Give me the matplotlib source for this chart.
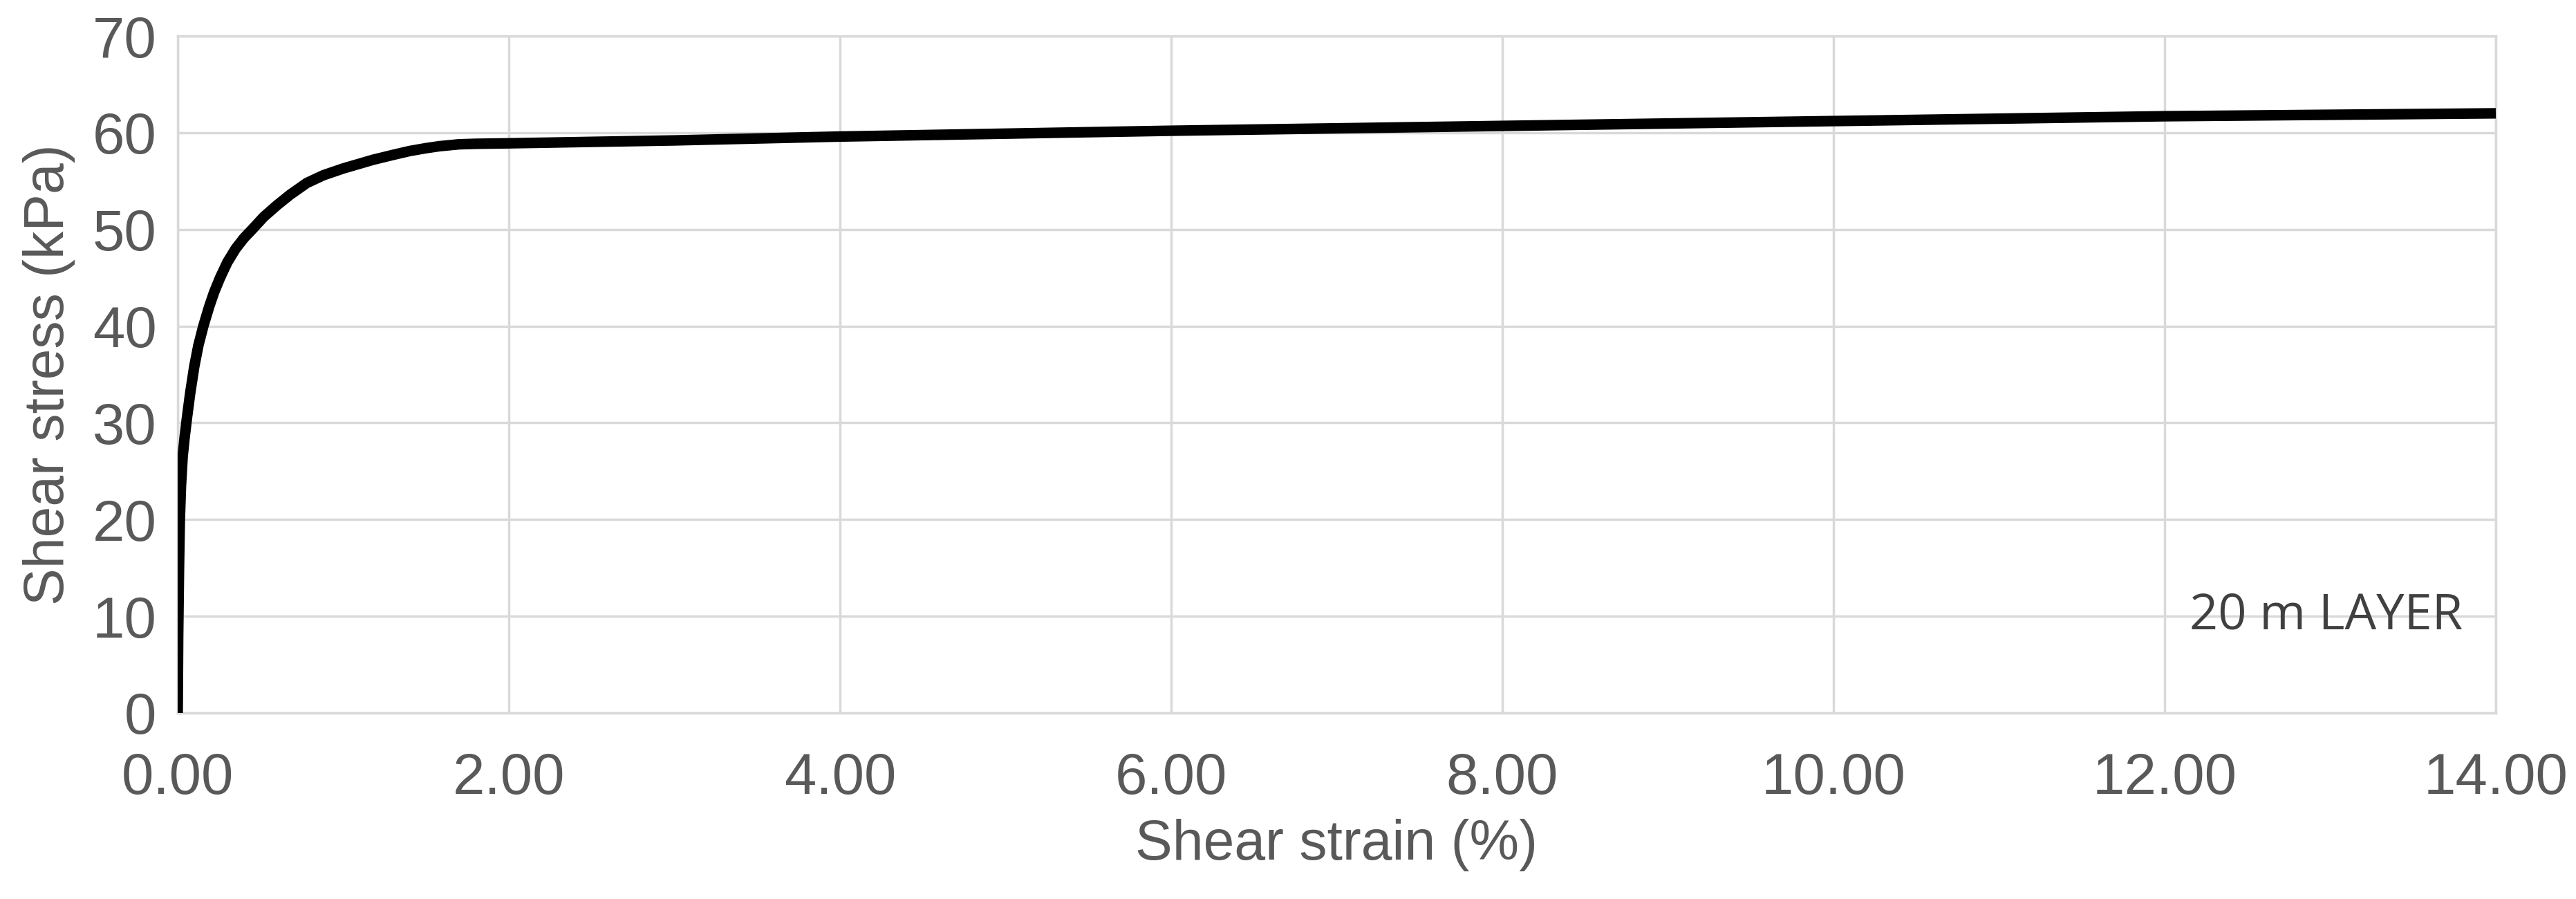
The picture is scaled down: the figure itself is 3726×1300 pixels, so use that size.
import matplotlib
matplotlib.use('Agg')
import matplotlib.pyplot as plt

strain = [0.0, 0.003, 0.008, 0.013, 0.02, 0.03, 0.042, 0.056, 0.075, 0.1, 0.125, 0.155, 0.19,
          0.22, 0.256, 0.3, 0.35, 0.4, 0.45, 0.52, 0.6, 0.68, 0.78, 0.88, 1.0, 1.1, 1.18,
          1.3, 1.4, 1.5, 1.58, 1.7, 1.8, 2.0, 3.0, 4.0, 6.0, 8.0, 10.0, 12.0, 14.0]
stress = [0.0, 8.0, 15.0, 20.0, 23.5, 26.5, 28.5, 30.5, 33.0, 35.8, 38.0, 40.0, 42.0,
          43.5, 45.0, 46.6, 48.0, 49.1, 50.0, 51.3, 52.5, 53.6, 54.8, 55.6, 56.3, 56.8, 57.2,
          57.7, 58.1, 58.4, 58.6, 58.8, 58.85, 58.9, 59.2, 59.6, 60.2, 60.7, 61.2, 61.7, 62.0]

GRAY = '#595959'
plt.rcParams['font.family'] = ['Liberation Sans', 'DejaVu Sans']

fig = plt.figure(figsize=(37.26, 13), dpi=100)
ax = fig.add_axes([257 / 3726, 1 - 1031 / 1300, (3610 - 257) / 3726, (1031 - 52) / 1300])

ax.plot(strain, stress, color='black', lw=11, solid_capstyle='butt',
        solid_joinstyle='round', zorder=3)

ax.set_xlim(0, 14)
ax.set_ylim(0, 70)
ax.set_xticks(range(0, 15, 2))
ax.set_xticklabels([f'{v:.2f}' for v in range(0, 15, 2)])
ax.set_yticks(range(0, 71, 10))
ax.grid(True, color='#d9d9d9', lw=2.5)
ax.set_axisbelow(True)
for s in ax.spines.values():
    s.set_color('#d9d9d9')
    s.set_linewidth(2.5)
ax.tick_params(length=0, labelsize=60, labelcolor=GRAY, pad=22)
ax.tick_params(axis='x', pad=40)

ax.set_xlabel('Shear strain (%)', fontsize=58, color=GRAY, labelpad=14)
ax.set_ylabel('Shear stress (kPa)', fontsize=58, color=GRAY, labelpad=18)

ax.text(13.8, 10, '20 m LAYER', fontsize=52, color='#404040', ha='right', va='center',
        family=['Open Sans', 'DejaVu Sans'])

fig.savefig('out.png', dpi=100)
